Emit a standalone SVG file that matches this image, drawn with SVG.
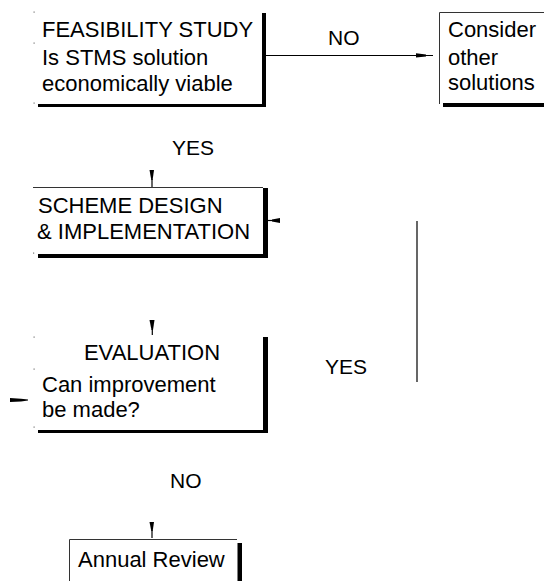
<svg xmlns="http://www.w3.org/2000/svg" width="544" height="581" viewBox="0 0 544 581">
  <style>
    .t { font-family: "Liberation Sans", Arial, sans-serif; font-size: 22px; fill: #000; }
    .lbl { font-family: "Liberation Sans", Arial, sans-serif; font-size: 21px; fill: #000; }
    .edge { stroke: #333; stroke-width: 1; fill: none; }
    .shadow { fill: #000; }
    .dot { fill: #777; }
    .wire { stroke: #000; stroke-width: 1.2; fill: none; }
    .head { fill: #000; }
  </style>
  <rect width="544" height="581" fill="#fff"/>

  <!-- Feasibility study -->
  <g id="feasibility">
    <rect class="dot" x="33.5" y="11.5" width="1.2" height="1.2"/>
    <rect class="dot" x="33.5" y="42.5" width="1.2" height="1.2"/>
    <rect class="dot" x="33.5" y="102.5" width="1.2" height="1.2"/>
    <rect class="shadow" x="262" y="13" width="4" height="94"/>
    <rect class="shadow" x="38" y="104" width="228" height="3"/>
    <text class="t" x="42" y="37">FEASIBILITY STUDY</text>
    <text class="t" x="42" y="65">Is STMS solution</text>
    <text class="t" x="42" y="91">economically viable</text>
  </g>

  <!-- Other solutions -->
  <g id="other-solutions">
    <path class="edge" d="M439.5 104 V12.5 H544"/>
    <rect class="shadow" x="443" y="103" width="101" height="4"/>
    <text class="t" x="448" y="37">Consider</text>
    <text class="t" x="448" y="65">other</text>
    <text class="t" x="448" y="90">solutions</text>
  </g>

  <!-- Scheme design -->
  <g id="scheme-design">
    <path class="edge" d="M33 187.5 H263"/>
    <rect class="dot" x="33" y="252.5" width="1.2" height="1.2"/>
    <rect class="shadow" x="263" y="188" width="5" height="70"/>
    <rect class="shadow" x="38" y="254" width="230" height="4"/>
    <text class="t" x="38" y="213">SCHEME DESIGN</text>
    <text class="t" x="37" y="239">&amp; IMPLEMENTATION</text>
  </g>

  <!-- Evaluation -->
  <g id="evaluation">
    <rect class="dot" x="33.5" y="336.5" width="1.2" height="1.2"/>
    <rect class="dot" x="33.5" y="368.5" width="1.2" height="1.2"/>
    <rect class="dot" x="33.5" y="426.5" width="1.2" height="1.2"/>
    <rect class="shadow" x="263" y="337" width="5" height="96"/>
    <rect class="shadow" x="38" y="430" width="230" height="3"/>
    <text class="t" x="152" y="360" text-anchor="middle">EVALUATION</text>
    <text class="t" x="42" y="392">Can improvement</text>
    <text class="t" x="42" y="417">be made?</text>
  </g>

  <!-- Annual review -->
  <g id="annual-review">
    <path class="edge" d="M69.5 581 V539.5 H237"/>
    <rect class="shadow" x="237.5" y="543" width="4.5" height="38"/>
    <text class="t" x="78" y="567">Annual Review</text>
  </g>

  <!-- Connectors -->
  <g id="connectors">
    <!-- NO: feasibility to other solutions -->
    <line class="wire" x1="266" y1="55.5" x2="433" y2="55.5"/>
    <path class="head" d="M416 53.2 L426 54.6 L426 56.6 L416 57.6 Z"/>
    <text class="lbl" x="328" y="45">NO</text>

    <!-- YES: feasibility to scheme design -->
    <path class="head" d="M149.5 170 H154 L152.6 180 H151.3 Z"/>
    <line class="wire" x1="152" y1="179" x2="152" y2="187"/>
    <text class="lbl" x="172" y="155">YES</text>

    <!-- loop back into scheme design -->
    <line class="wire" x1="268" y1="220.5" x2="280" y2="220.5"/>
    <path class="head" d="M272 219.6 L280 218 V223 L272 221.6 Z"/>
    <line class="wire" x1="417" y1="221" x2="417" y2="382"/>
    <text class="lbl" x="325" y="374">YES</text>

    <!-- scheme design to evaluation -->
    <path class="head" d="M149.5 320 H154.5 L153 330 H151.5 Z"/>
    <line class="wire" x1="152.3" y1="329" x2="152.3" y2="335"/>

    <!-- left stub from evaluation -->
    <path class="head" d="M10 398 L21 398.8 L28 399.6 V400.6 L21 401.4 L10 402 Z"/>

    <!-- NO: evaluation to annual review -->
    <path class="head" d="M149.5 522 H154 L152.7 531 H151.3 Z"/>
    <line class="wire" x1="152" y1="530" x2="152" y2="538"/>
    <text class="lbl" x="170" y="488">NO</text>
  </g>
</svg>
